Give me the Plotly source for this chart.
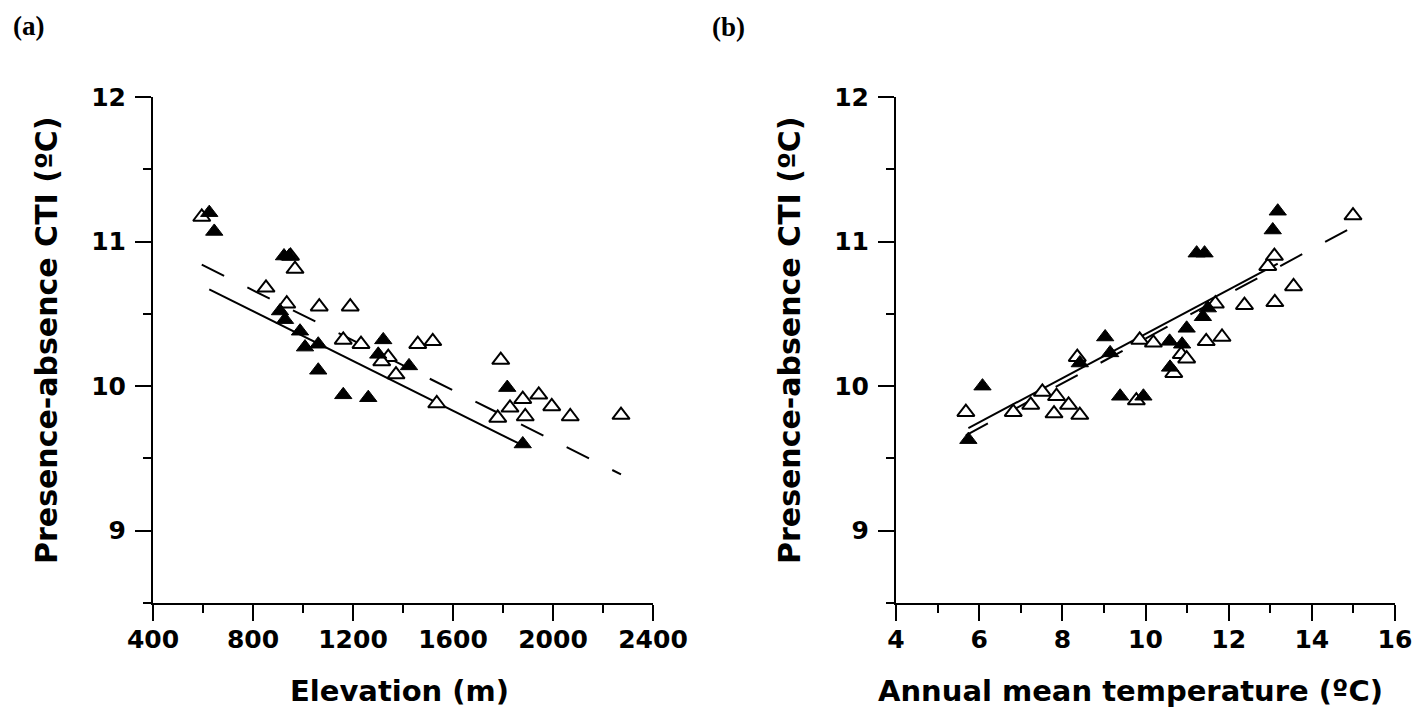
import plotly.graph_objects as go

# (a) elevation (m) vs presence-absence CTI
elev_filled = [625, 645, 924, 945, 908, 928, 988, 1008, 1061, 1061, 1321, 1301,
               1424, 1161, 1261, 1817, 1879]
cti_a_filled = [11.20, 11.07, 10.90, 10.90, 10.52, 10.46, 10.38, 10.27, 10.29, 10.11,
                10.32, 10.22, 10.14, 9.94, 9.92, 9.99, 9.60]
elev_open = [595, 950, 968, 852, 935, 1065, 1189, 1161, 1232, 1341, 1315, 1372,
             1459, 1519, 1535, 1791, 1879, 1943, 1828, 1779, 1889, 1995, 2069, 2272]
cti_a_open = [11.17, 10.90, 10.81, 10.68, 10.57, 10.55, 10.55, 10.32, 10.29, 10.20, 10.17,
              10.08, 10.29, 10.31, 9.88, 10.18, 9.91, 9.94, 9.85, 9.78, 9.79, 9.86,
              9.79, 9.80]

# (b) annual mean temperature (ºC) vs presence-absence CTI
temp_filled = [6.08, 5.74, 8.42, 9.03, 9.15, 9.39, 9.95, 10.58, 10.99, 10.88, 10.59,
               11.38, 11.50, 11.23, 11.42, 13.06, 13.18]
cti_b_filled = [10.00, 9.63, 10.16, 10.34, 10.23, 9.93, 9.93, 10.31, 10.40, 10.29, 10.13,
                10.48, 10.54, 10.92, 10.92, 11.08, 11.21]
temp_open = [5.68, 6.82, 7.24, 7.52, 7.86, 7.80, 8.15, 8.42, 8.36, 9.78, 9.86, 10.19,
             10.86, 10.99, 10.68, 11.46, 11.84, 11.68, 12.38, 13.11, 13.56, 12.94,
             13.10, 14.99]
cti_b_open = [9.82, 9.82, 9.87, 9.96, 9.93, 9.81, 9.87, 9.80, 10.20, 9.90, 10.32, 10.30,
              10.22, 10.19, 10.09, 10.31, 10.34, 10.57, 10.56, 10.58, 10.69, 10.83,
              10.90, 11.18]

# regression lines as shown in the figure: (intercept, slope)
fit_a_filled = (11.208, -0.000861)
fit_a_open = (11.355, -0.000865)
fit_b_filled = (8.832, 0.1529)
fit_b_open = (8.781, 0.1548)

W, H = 1419, 711
TICK = dict(family="DejaVu Sans", size=25, color="black", weight="bold")

fig = go.Figure()


def line_xy(x, fit):
    xs = [min(x), max(x)]
    return xs, [fit[0] + fit[1] * v for v in xs]


def add_panel(xa, ya, xf, yf, xo, yo, ff, fo):
    lx, ly = line_xy(xf, ff)
    fig.add_trace(go.Scatter(x=lx, y=ly, mode="lines", xaxis=xa, yaxis=ya,
                             line=dict(color="black", width=2)))
    lx, ly = line_xy(xo, fo)
    fig.add_trace(go.Scatter(x=lx, y=ly, mode="lines", xaxis=xa, yaxis=ya,
                             line=dict(color="black", width=2, dash="25px,26px")))
    fig.add_trace(go.Scatter(x=xo, y=yo, mode="markers", xaxis=xa, yaxis=ya,
                             marker=dict(symbol="triangle-up", size=15, color="white",
                                         line=dict(color="black", width=2))))
    fig.add_trace(go.Scatter(x=xf, y=yf, mode="markers", xaxis=xa, yaxis=ya,
                             marker=dict(symbol="triangle-up", size=15, color="black",
                                         line=dict(color="black", width=1))))


add_panel("x", "y", elev_filled, cti_a_filled, elev_open, cti_a_open,
          fit_a_filled, fit_a_open)
add_panel("x2", "y2", temp_filled, cti_b_filled, temp_open, cti_b_open,
          fit_b_filled, fit_b_open)

ydom = [1 - 603 / H, 1 - 97 / H]
common = dict(showline=True, linewidth=2, linecolor="black", ticks="outside",
              ticklen=16, tickwidth=2, tickcolor="black", showgrid=False,
              zeroline=False, tickfont=TICK, automargin=False)
minor_y = dict(dtick=0.5, tick0=8.5, ticks="outside", ticklen=8, tickwidth=2,
               tickcolor="black")

fig.update_layout(
    width=W, height=H, margin=dict(l=0, r=0, t=0, b=0),
    paper_bgcolor="white", plot_bgcolor="white", showlegend=False,
    xaxis=dict(common, domain=[153 / W, 653 / W], range=[400, 2400], dtick=400,
               tick0=400, anchor="y", ticklabelstandoff=-3,
               minor=dict(dtick=200, tick0=400, ticks="outside", ticklen=8,
                          tickwidth=2, tickcolor="black")),
    yaxis=dict(common, domain=ydom, range=[8.5, 12], dtick=1, tick0=9, anchor="x",
               ticklabelstandoff=4, minor=minor_y),
    xaxis2=dict(common, domain=[896 / W, 1395 / W], range=[4, 16], dtick=2,
                tick0=4, anchor="y2", ticklabelstandoff=-3,
                minor=dict(dtick=1, tick0=4, ticks="outside", ticklen=8,
                           tickwidth=2, tickcolor="black")),
    yaxis2=dict(common, domain=ydom, range=[8.5, 12], dtick=1, tick0=9, anchor="x2",
                ticklabelstandoff=4, minor=minor_y),
)

ann = [
    ("Elevation (m)", 399, 691, 0, 29),
    ("Annual mean temperature (ºC)", 1130, 691, 0, 29),
    ("Presence-absence CTI (ºC)", 46, 340, -90, 30),
    ("Presence-absence CTI (ºC)", 789, 340, -90, 30),
]
for text, px, py, ang, fs in ann:
    fig.add_annotation(text=text, x=px / W, y=1 - py / H, xref="paper", yref="paper",
                       showarrow=False, textangle=ang, xanchor="center", yanchor="middle",
                       font=dict(family="DejaVu Sans", size=fs, color="black",
                                 weight="bold"))

for text, px, py in [("(a)", 28, 26), ("(b)", 728, 27)]:
    fig.add_annotation(text=text, x=px / W, y=1 - py / H, xref="paper", yref="paper",
                       showarrow=False, xanchor="center", yanchor="middle",
                       font=dict(family="Liberation Serif", size=27, color="black",
                                 weight="bold"))

fig.write_html("out.html", config={"displayModeBar": False},
               post_script="document.body.style.margin = '0';")
